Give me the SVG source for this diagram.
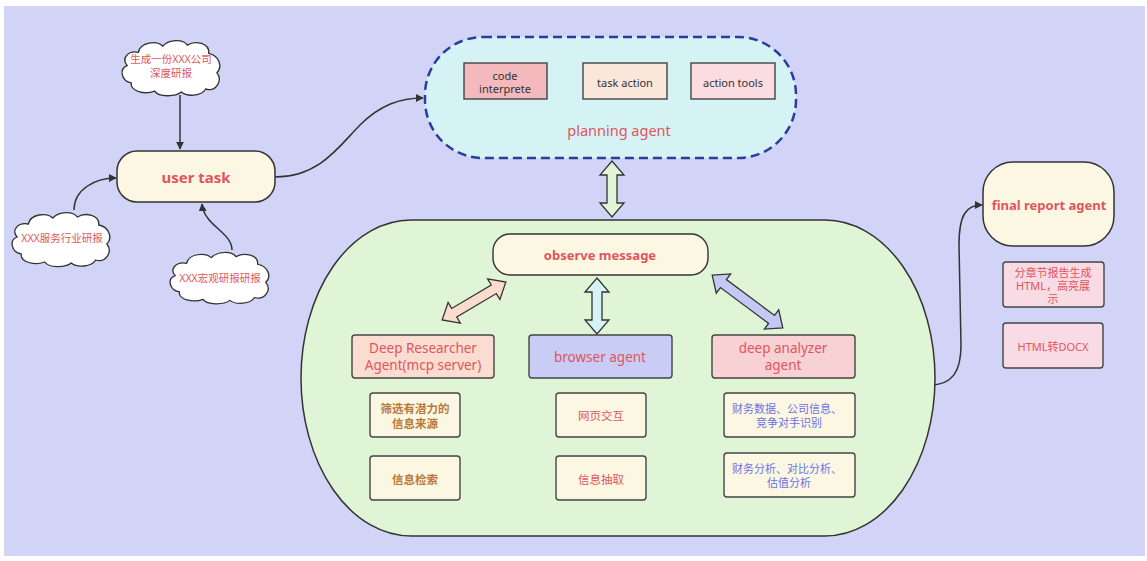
<svg xmlns="http://www.w3.org/2000/svg" width="1147" height="561" viewBox="0 0 1147 561">
  <defs>
    <marker id="arrow" viewBox="0 0 10 10" refX="9" refY="5" markerWidth="8" markerHeight="8" markerUnits="userSpaceOnUse" orient="auto">
      <path d="M0,0 L10,5 L0,10 Z" fill="#333"/>
    </marker>
    <!-- cloud outline, 100 x 56 box -->
    <path id="cloud" d="M18,14 C20,4 36,2 42,8 C48,1 62,1 66,7 C74,2 88,5 87,15 C97,17 101,28 95,34 C101,42 94,53 84,50 C80,57 66,58 60,53 C54,58 38,58 34,52 C24,56 10,52 11,44 C1,42 -1,30 7,27 C1,20 8,12 18,14 Z"/>
  </defs>
  <style>
    .bg { fill: #d1d4f6; }
    .line { fill: none; stroke: #333; stroke-width: 1.5; }
    .cloud { fill: #ffffff; stroke: #333; stroke-width: 1.3; }
    .box { stroke: #444; stroke-width: 1.4; }
    .dbl { stroke: #333; stroke-width: 1.3; stroke-linejoin: miter; }
    text { font-family: "Noto Sans", "Noto Sans CJK SC", sans-serif; text-anchor: middle; dominant-baseline: central; }
    .red { fill: #e0555d; }
    .brown { fill: #b87a3a; font-weight: bold; }
    .blue { fill: #6b72e4; }
  </style>

  <rect x="0" y="0" width="1147" height="561" fill="#ffffff"/>
  <rect class="bg" x="4" y="6" width="1141" height="550"/>

  <!-- connectors -->
  <g id="connectors">
    <path class="line" d="M180,95 L180,149" marker-end="url(#arrow)"/>
    <path class="line" d="M74,210 C74,190 94,178 116,178" marker-end="url(#arrow)"/>
    <path class="line" d="M232,250 C232,232 204,226 202,204" marker-end="url(#arrow)"/>
    <path class="line" d="M275,177 C320,177 340,145 360,125 S400,98 423,98" marker-end="url(#arrow)"/>
    <path class="line" d="M930,385 C952,385 961,372 961,345 L959,245 C959,215 966,205 982,205" marker-end="url(#arrow)"/>
  </g>

  <!-- input clouds -->
  <g id="cloud-company">
    <use href="#cloud" class="cloud" transform="translate(120,38) scale(1.02,1.02)"/>
    <text class="red" x="171" y="59" font-size="10.5">生成一份XXX公司</text>
    <text class="red" x="171" y="73" font-size="10.5">深度研报</text>
  </g>
  <g id="cloud-industry">
    <use href="#cloud" class="cloud" transform="translate(10,210) scale(1.02,1.0)"/>
    <text class="red" x="62" y="238" font-size="10.5">XXX服务行业研报</text>
  </g>
  <g id="cloud-macro">
    <use href="#cloud" class="cloud" transform="translate(168,250) scale(1.03,0.95)"/>
    <text class="red" x="220" y="278" font-size="10.5">XXX宏观研报研报</text>
  </g>

  <!-- user task -->
  <g id="user-task">
    <rect x="117" y="151" width="158" height="51" rx="20" fill="#fcf7e3" stroke="#333" stroke-width="1.5"/>
    <text class="red" x="196" y="177" font-size="15" font-weight="bold">user task</text>
  </g>

  <!-- planning agent -->
  <g id="planning-agent">
    <rect x="425" y="37" width="371" height="121" rx="58" fill="#d5f3f5" stroke="#2b3d9a" stroke-width="2.5" stroke-dasharray="9,5"/>
    <text class="red" x="619" y="130" font-size="14.5">planning agent</text>
  </g>
  <g id="code-interprete">
    <rect class="box" x="464" y="63" width="83" height="36" fill="#f3b9bd"/>
    <text x="505" y="75" font-size="11" fill="#333">code</text>
    <text x="505" y="88" font-size="11" fill="#333">interprete</text>
  </g>
  <g id="task-action">
    <rect class="box" x="583" y="63" width="84" height="36" fill="#fbe6da"/>
    <text x="625" y="82" font-size="11" fill="#333">task action</text>
  </g>
  <g id="action-tools">
    <rect class="box" x="691" y="63" width="84" height="36" fill="#fbdce1"/>
    <text x="733" y="82" font-size="11" fill="#333">action tools</text>
  </g>

  <!-- planning <-> workspace link -->
  <g id="links">
    <polygon class="dbl" fill="#e1f4d5" transform="translate(612,189) rotate(90)" points="-28,0 -14,-12 -14,-5 14,-5 14,-12 28,0 14,12 14,5 -14,5 -14,12"/>
  </g>

  <!-- agent workspace -->
  <g id="workspace">
    <rect x="301" y="220" width="634" height="316" rx="110" ry="158" fill="#e0f5d6" stroke="#333" stroke-width="1.5"/>
  </g>
  <g id="observe-message">
    <rect x="493" y="234" width="215" height="41" rx="17" fill="#fcf7e3" stroke="#333" stroke-width="1.4"/>
    <text class="red" x="600" y="255" font-size="13" font-weight="bold">observe message</text>
  </g>

  <!-- observe message <-> agents -->
  <g id="inner-links">
    <polygon class="dbl" fill="#fadccd" transform="translate(474,301) rotate(-30.7)" points="-37,0 -23,-12 -23,-5 23,-5 23,-12 37,0 23,12 23,5 -23,5 -23,12"/>
    <polygon class="dbl" fill="#d5f3f5" transform="translate(597,306) rotate(90)" points="-28,0 -14,-12 -14,-5 14,-5 14,-12 28,0 14,12 14,5 -14,5 -14,12"/>
    <polygon class="dbl" fill="#c4c8f4" transform="translate(747.5,301.5) rotate(36.7)" points="-44,0 -30,-12 -30,-5 30,-5 30,-12 44,0 30,12 30,5 -30,5 -30,12"/>
  </g>

  <g id="deep-researcher">
    <rect class="box" x="352" y="335" width="142" height="43" rx="3" fill="#fadcd1"/>
    <text class="red" x="423" y="348" font-size="13.5">Deep Researcher</text>
    <text class="red" x="423" y="365" font-size="13.5">Agent(mcp server)</text>
  </g>
  <g id="browser-agent">
    <rect class="box" x="529" y="335" width="143" height="43" rx="3" fill="#c9ccf4"/>
    <text class="red" x="600" y="357" font-size="13.5">browser agent</text>
  </g>
  <g id="deep-analyzer">
    <rect class="box" x="712" y="335" width="143" height="43" rx="3" fill="#f8d1d5"/>
    <text class="red" x="783" y="348" font-size="13.5">deep analyzer</text>
    <text class="red" x="783" y="365" font-size="13.5">agent</text>
  </g>

  <g id="source-filter">
    <rect class="box" x="370" y="393" width="90" height="44" rx="3" fill="#fcf7e3"/>
    <text class="brown" x="415" y="408" font-size="11.5">筛选有潜力的</text>
    <text class="brown" x="415" y="423" font-size="11.5">信息来源</text>
  </g>
  <g id="info-search">
    <rect class="box" x="370" y="456" width="90" height="44" rx="3" fill="#fcf7e3"/>
    <text class="brown" x="415" y="479" font-size="11.5">信息检索</text>
  </g>
  <g id="web-interaction">
    <rect class="box" x="556" y="393" width="90" height="44" rx="3" fill="#fcf7e3"/>
    <text class="red" x="601" y="415" font-size="11.5">网页交互</text>
  </g>
  <g id="info-extract">
    <rect class="box" x="556" y="456" width="90" height="44" rx="3" fill="#fcf7e3"/>
    <text class="red" x="601" y="479" font-size="11.5">信息抽取</text>
  </g>
  <g id="finance-data">
    <rect class="box" x="724" y="393" width="131" height="44" rx="3" fill="#fcf7e3"/>
    <text class="blue" x="787" y="408" font-size="11">财务数据、公司信息、</text>
    <text class="blue" x="789" y="422" font-size="11">竞争对手识别</text>
  </g>
  <g id="finance-analysis">
    <rect class="box" x="724" y="453" width="131" height="44" rx="3" fill="#fcf7e3"/>
    <text class="blue" x="787" y="468" font-size="11">财务分析、对比分析、</text>
    <text class="blue" x="789" y="482" font-size="11">估值分析</text>
  </g>

  <!-- final report -->
  <g id="final-report-agent">
    <rect x="983" y="162" width="131" height="84" rx="30" fill="#fcf7e3" stroke="#333" stroke-width="1.5"/>
    <text class="red" x="1049" y="205" font-size="13" font-weight="bold">final report agent</text>
  </g>
  <g id="html-report">
    <rect class="box" x="1003" y="262" width="101" height="45" rx="3" fill="#f9dbe5"/>
    <text class="red" x="1053" y="272" font-size="11">分章节报告生成</text>
    <text class="red" x="1053" y="285" font-size="11">HTML，高亮展</text>
    <text class="red" x="1053" y="298" font-size="11">示</text>
  </g>
  <g id="html-docx">
    <rect class="box" x="1003" y="323" width="100" height="45" rx="3" fill="#f9dbe5"/>
    <text class="red" x="1053" y="346" font-size="11">HTML转DOCX</text>
  </g>
</svg>
